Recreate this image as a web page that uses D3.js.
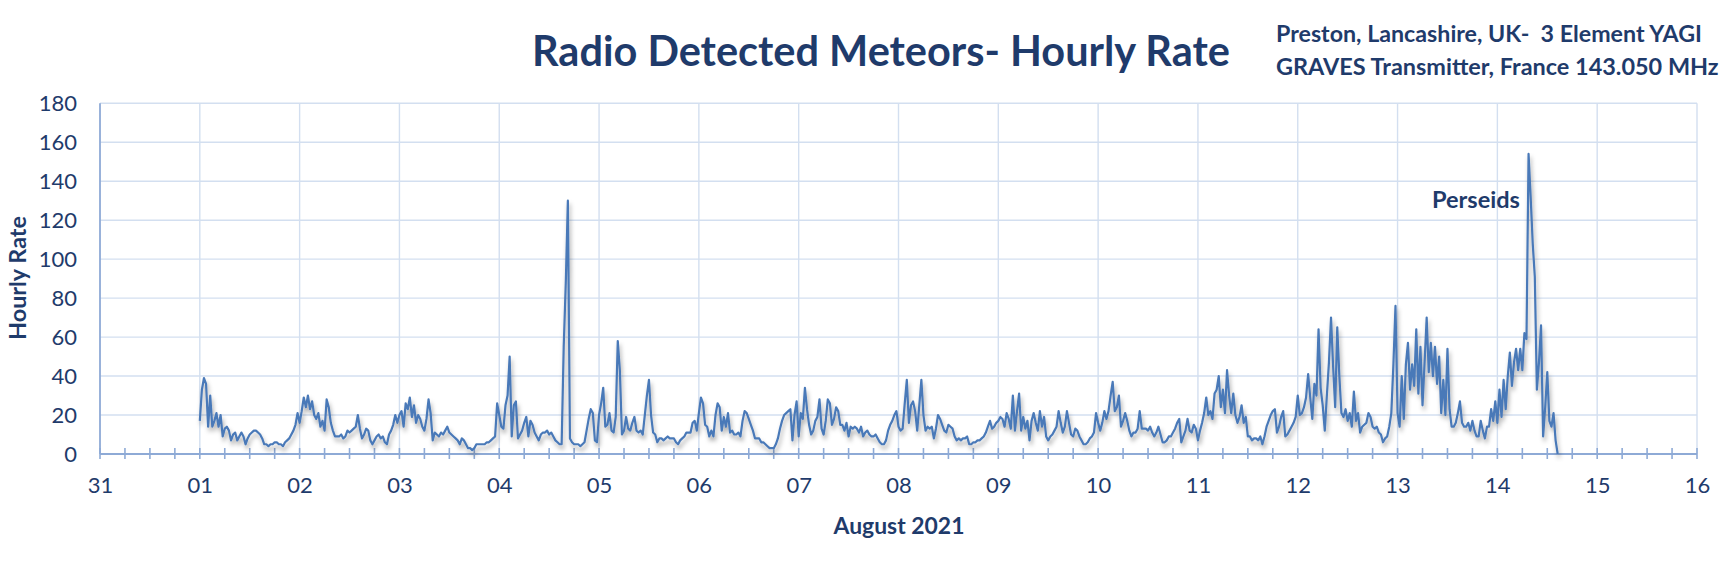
<!DOCTYPE html>
<html><head><meta charset="utf-8">
<script src="https://cdn.jsdelivr.net/npm/d3@7"></script>
<style>body{margin:0;background:#fff}svg{display:block}</style>
</head><body>
<svg id="chart" width="1733" height="563"></svg>
<script>
// Half-hourly hourly-rate values, one array per day of August 2021 (starting 00:00 UTC)
const day01 = [17,33,39,36,14,30,14,17,21,14,20,9,13,14,12,7,10,11,7,9,11,9,5,8,10,11,12,12,11,10,8,5,5,4,5,5,6,6,5,5,4,6,7,8,10,12,15,21];
const day02 = [16,22,29,24,30,23,27,20,18,21,14,17,12,28,24,16,12,9,9,9,10,8,9,12,11,12,13,14,20,13,8,10,13,12,7,5,7,9,10,8,9,6,5,10,12,15,20,16];
const day03 = [20,22,14,26,23,29,19,25,16,20,18,14,12,18,28,21,7,11,10,9,11,10,12,14,11,10,9,8,7,5,8,7,5,3,3,2,3,5,5,5,5,5,6,6,7,8,9,26];
const day04 = [20,14,13,25,30,50,9,25,27,8,10,12,16,19,9,17,15,11,9,7,10,11,11,12,10,11,9,7,6,5,5,55,88,130,8,6,5,5,5,4,5,6,12,18,23,21,7,6];
const day05 = [20,26,34,14,15,21,12,11,19,58,43,10,12,19,13,12,16,19,12,11,12,10,20,30,38,20,11,10,6,8,8,7,8,9,8,8,8,6,5,7,8,9,11,11,11,16,17,12];
const day06 = [21,29,26,15,14,9,12,9,20,26,24,12,19,14,21,11,12,10,10,11,9,17,22,21,18,15,12,8,8,8,6,6,5,4,3,3,3,5,8,13,17,20,21,22,23,7,20,27];
const day07 = [9,21,18,34,23,15,10,12,17,19,28,13,10,17,28,26,15,18,24,22,15,15,12,16,9,14,13,14,13,11,14,9,11,12,10,9,9,10,8,6,5,5,7,12,15,17,20,22];
const day08 = [14,12,13,26,38,16,25,27,22,12,25,38,20,12,14,13,14,8,13,20,18,15,12,11,15,14,13,9,7,8,7,8,8,9,5,5,6,6,7,7,8,9,11,14,17,13,14,16];
const day09 = [17,19,18,14,21,18,13,30,12,22,31,12,19,13,17,7,17,21,16,12,22,14,19,9,7,9,10,12,14,22,16,11,14,22,16,10,9,13,12,9,7,5,5,6,8,9,11,21];
const day10 = [16,12,16,22,18,22,30,37,22,24,30,14,17,21,17,12,9,11,11,13,22,13,13,13,12,14,11,9,11,14,10,6,6,7,9,9,11,13,16,18,6,9,12,18,12,11,15,13];
const day11 = [7,12,16,21,29,20,22,18,31,33,40,24,33,21,43,30,21,31,20,16,19,25,16,19,9,9,7,8,8,7,9,5,9,14,17,20,22,23,11,14,19,22,9,10,12,14,16,19];
const day12 = [30,20,21,24,29,41,29,18,36,30,64,34,25,12,30,47,70,45,24,65,40,21,19,23,17,21,14,32,17,21,11,14,15,16,21,19,14,13,14,11,10,6,8,9,14,21,46,76];
const day13 = [21,14,40,18,46,57,33,46,35,64,31,55,25,47,70,42,57,40,55,36,50,21,38,20,54,23,14,14,16,21,27,16,14,14,16,12,17,12,9,9,17,12,8,14,14,23,17,27];
const day14 = [16,33,19,38,23,40,52,35,47,54,43,54,43,62,59,154,132,108,91,33,47,66,9,24,42,17,14,21,7,0];
const dayArrays = [day01,day02,day03,day04,day05,day06,day07,day08,day09,day10,day11,day12,day13,day14];

const yTicks = [0,20,40,60,80,100,120,140,160,180];
const xDomain = [Date.UTC(2021,6,31), Date.UTC(2021,7,16)];
const titleText = "Radio Detected Meteors- Hourly Rate";
const subtitle1 = "Preston, Lancashire, UK-  3 Element YAGI";
const subtitle2 = "GRAVES Transmitter, France 143.050 MHz";
const xTitle = "August 2021";
const yTitle = "Hourly Rate";
const annotation = {text: "Perseids"};

const data = [];
dayArrays.forEach((arr, i) => arr.forEach((v, j) => {
  data.push({t: new Date(Date.UTC(2021, 7, i + 1, 0, 30 * j)), v});
}));

const navy = "#1f3b6b";
const FONT = "Lato, 'Open Sans', sans-serif";
const svg = d3.select("#chart");
const L = 100, R = 1697, T = 103.3, B = 454;
const x = d3.scaleUtc().domain(xDomain).range([L, R]);
const y = d3.scaleLinear().domain([0, 180]).range([B, T]);

const defs = svg.append("defs");
const f = defs.append("filter").attr("id", "shadow").attr("x", "-5%").attr("y", "-5%").attr("width", "110%").attr("height", "120%");
f.append("feDropShadow").attr("dx", 1.5).attr("dy", 4).attr("stdDeviation", 2.2)
  .attr("flood-color", "#000").attr("flood-opacity", 0.32);

// grid
const grid = svg.append("g");
grid.selectAll("line.h").data(yTicks.filter(d => d > 0)).join("line")
  .attr("x1", L).attr("x2", R).attr("y1", d => y(d)).attr("y2", d => y(d))
  .attr("stroke", "#d3dff0").attr("stroke-width", 1.4);
grid.selectAll("line.v").data(x.ticks(d3.utcDay.every(1)).slice(1)).join("line")
  .attr("x1", d => x(d)).attr("x2", d => x(d)).attr("y1", T).attr("y2", B)
  .attr("stroke", "#d3dff0").attr("stroke-width", 1.4);

// axes
const axisColor = "#8eaad6";
svg.append("line").attr("x1", L).attr("x2", L).attr("y1", T).attr("y2", B)
  .attr("stroke", axisColor).attr("stroke-width", 1.8);
svg.append("line").attr("x1", L).attr("x2", R).attr("y1", B).attr("y2", B)
  .attr("stroke", axisColor).attr("stroke-width", 1.8);
svg.append("g").selectAll("line").data(x.ticks(d3.utcHour.every(6))).join("line")
  .attr("x1", d => x(d)).attr("x2", d => x(d)).attr("y1", B - 6).attr("y2", B + 5)
  .attr("stroke", axisColor).attr("stroke-width", 1.6);

const xAxis = svg.append("g").attr("transform", `translate(0,${B})`)
  .call(d3.axisBottom(x).ticks(d3.utcDay.every(1)).tickFormat(d3.utcFormat("%d")).tickSize(0).tickPadding(23));
const yAxis = svg.append("g").attr("transform", `translate(${L},0)`)
  .call(d3.axisLeft(y).tickValues(yTicks).tickSize(0).tickPadding(23));
[xAxis, yAxis].forEach(g => {
  g.select(".domain").remove();
  g.selectAll("text").attr("font-family", FONT).attr("font-size", 22).attr("fill", navy);
});

// line
const line = d3.line().x(d => x(d.t)).y(d => y(d.v));
svg.append("path").datum(data).attr("d", line).attr("fill", "none")
  .attr("stroke", "#4a79b8").attr("stroke-width", 2.2).attr("stroke-linejoin", "round")
  .attr("filter", "url(#shadow)");

function fit(sel, target) {
  const w = sel.node().getComputedTextLength();
  sel.attr("font-size", parseFloat(sel.attr("font-size")) * target / w);
  return sel;
}
function txt(t, xx, yy, size, anchor, weight) {
  return svg.append("text").attr("x", xx).attr("y", yy).attr("font-family", FONT)
    .attr("font-size", size).attr("font-weight", weight || "bold").attr("fill", navy)
    .attr("text-anchor", anchor || "start").style("white-space", "pre").text(t);
}
fit(txt(titleText, 532, 66, 38), 698);
fit(txt(subtitle1, 1276, 42, 20), 426);
fit(txt(subtitle2, 1276, 75, 20), 443);
fit(txt(xTitle, 899, 534, 19, "middle"), 131);
fit(txt(annotation.text, 1432, 208, 20), 88);
const yt = svg.append("text").attr("transform", "translate(26,278) rotate(-90)")
  .attr("font-family", FONT).attr("font-size", 19).attr("font-weight", "bold")
  .attr("fill", navy).attr("text-anchor", "middle").text(yTitle);
fit(yt, 124);
</script>
</body></html>
